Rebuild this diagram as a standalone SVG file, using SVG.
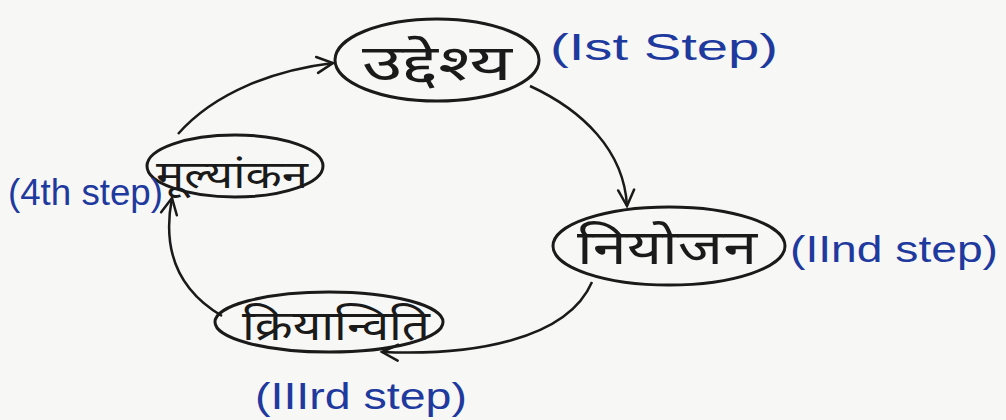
<svg xmlns="http://www.w3.org/2000/svg" width="1006" height="420" viewBox="0 0 1006 420">
<defs>
<marker id="arr" viewBox="0 0 20 20" refX="18" refY="10" markerWidth="20" markerHeight="20" markerUnits="userSpaceOnUse" orient="auto">
<path d="M2,2 L18,10 L2,18" fill="none" stroke="#1a1a1a" stroke-width="2.5" stroke-linecap="round"/>
</marker>
</defs>
<style>
.node{fill:none;stroke:#1a1a1a;stroke-width:3}
.hi{font-family:"Noto Sans Devanagari","Noto Sans","Lohit Devanagari",sans-serif;fill:#1a1a1a;text-anchor:middle}
.lbl{font-family:"Liberation Sans",sans-serif;fill:#1f3a9e;font-size:36px}
.edge{fill:none;stroke:#1a1a1a;stroke-width:2.5;marker-end:url(#arr)}
</style>
<rect width="1006" height="420" fill="#f7f7f5"/>
<g id="connectors">
<path class="edge" d="M178,134 C215,92 275,70 333,63"/>
<path class="edge" d="M530,86 C582,110 624,150 627,206"/>
<path class="edge" d="M592,282 C567,340 472,356 382,352"/>
<path class="edge" d="M222,316 C178,290 162,250 172,198"/>
</g>
<g id="n1">
<ellipse class="node" cx="437" cy="60" rx="102" ry="41"/>
<text class="hi" x="437" y="80" font-size="50" textLength="150" lengthAdjust="spacingAndGlyphs">उद्देश्य</text>
</g>
<g id="n2">
<ellipse class="node" cx="669" cy="246" rx="116" ry="39"/>
<text class="hi" x="667" y="264" font-size="48" textLength="180" lengthAdjust="spacingAndGlyphs">नियोजन</text>
</g>
<g id="n3">
<ellipse class="node" cx="329" cy="322" rx="114" ry="30"/>
<text class="hi" x="336" y="340" font-size="42" textLength="188" lengthAdjust="spacingAndGlyphs">क्रियान्विति</text>
</g>
<g id="n4">
<ellipse class="node" cx="235" cy="166" rx="88" ry="31"/>
<text class="hi" x="232" y="188" font-size="38" textLength="152" lengthAdjust="spacingAndGlyphs">मूल्यांकन</text>
</g>
<g id="labels">
<text class="lbl" x="550" y="60" font-size="40" textLength="228" lengthAdjust="spacingAndGlyphs">(Ist Step)</text>
<text class="lbl" x="790" y="262" textLength="208" lengthAdjust="spacingAndGlyphs">(IInd step)</text>
<text class="lbl" x="255" y="409" textLength="212" lengthAdjust="spacingAndGlyphs">(IIIrd step)</text>
<text class="lbl" x="8" y="205" font-size="34" textLength="155" lengthAdjust="spacingAndGlyphs">(4th step)</text>
</g>
</svg>
